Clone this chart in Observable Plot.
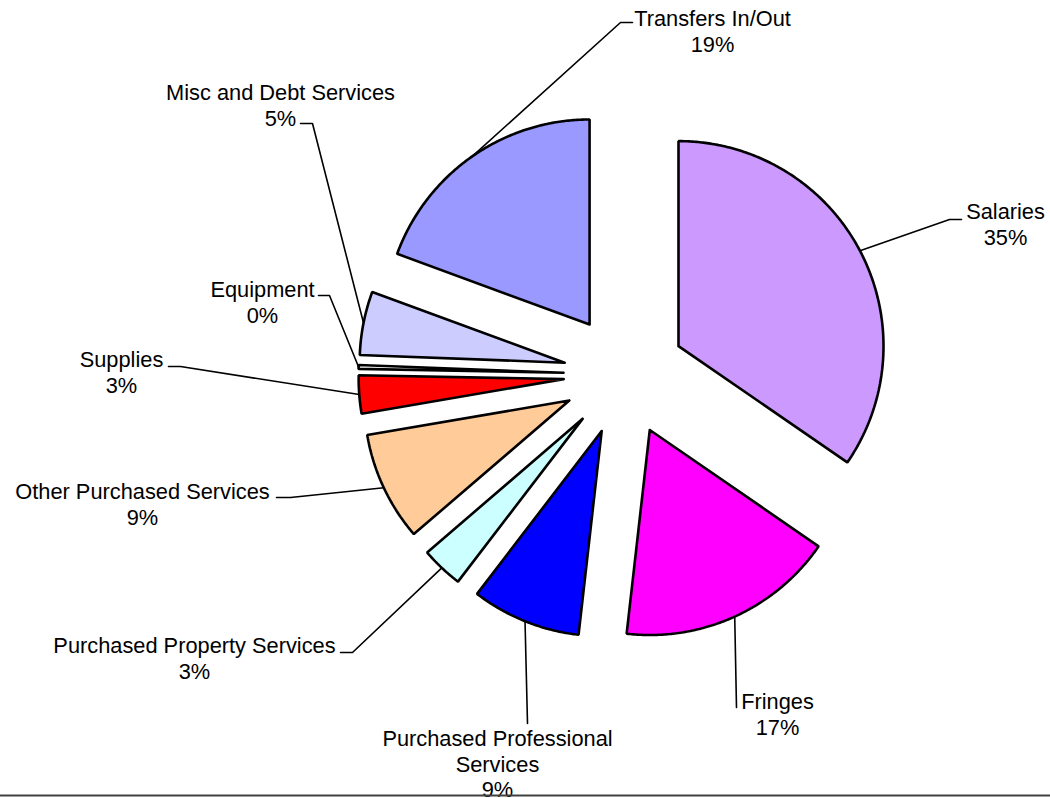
<!DOCTYPE html>
<html>
<head>
<meta charset="utf-8">
<script src="https://cdn.jsdelivr.net/npm/d3@7"></script>
<script src="https://cdn.jsdelivr.net/npm/@observablehq/plot@0.6"></script>
<style>
  html, body { margin: 0; padding: 0; background: #fff; }
  #chart { width: 1050px; height: 798px; }
</style>
</head>
<body>
<div id="chart"></div>
<script>
// ---- Data ----
const categories = ["Salaries", "Fringes", "Purchased Professional Services", "Purchased Property Services", "Other Purchased Services", "Supplies", "Equipment", "Misc and Debt Services", "Transfers In/Out"];
const values = [34.6, 17.2, 8.6, 3.3, 8.6, 3.0, 0.3, 5.0, 19.4];
const colors = ["#CC99FF", "#FF00FF", "#0000FF", "#CCFFFF", "#FFCC99", "#FF0000", "#FFFFFF", "#CCCCFF", "#9999FF"];

// ---- Layout (pixels) ----
const W = 1050, H = 798;
const cx = 624, cy = 374, R = 205, explode = 61;
// label block centers and leader elbows / hook ends
const labelLayout = [
  {tx: 1005, ty: 223, ex: 949, ey: 219, hx: 961, hy: 219},
  {tx: 777, ty: 713, ex: 736, ey: 707, hx: 736, hy: 707},
  {tx: 497, ty: 763, ex: 527, ey: 723, hx: 527, hy: 723, wrap: true},
  {tx: 194, ty: 657, ex: 352, ey: 652, hx: 340, hy: 652},
  {tx: 142, ty: 503, ex: 290, ey: 497, hx: 276, hy: 497},
  {tx: 121, ty: 371, ex: 180, ey: 366, hx: 168, hy: 366},
  {tx: 262, ty: 301, ex: 329, ey: 295, hx: 318, hy: 295},
  {tx: 280, ty: 104, ex: 312, ey: 123, hx: 300, hy: 123},
  {tx: 712, ty: 30, ex: 620, ey: 22, hx: 632, hy: 22}
];

const arcs = d3.pie().sort(null).value(d => d)(values);

const slices = arcs.map((a, i) => {
  const mid = (a.startAngle + a.endAngle) / 2;
  const ox = cx + explode * Math.sin(mid);
  const oy = cy - explode * Math.cos(mid);
  const pts = [{x: ox, y: oy}];
  const n = Math.max(2, Math.ceil((a.endAngle - a.startAngle) / (Math.PI / 360)));
  for (let k = 0; k <= n; k++) {
    const t = a.startAngle + (a.endAngle - a.startAngle) * k / n;
    pts.push({x: ox + R * Math.sin(t), y: oy - R * Math.cos(t)});
  }
  pts.push({x: ox, y: oy});
  const outer = {x: ox + R * Math.sin(mid), y: oy - R * Math.cos(mid)};
  return {i, pts, outer, color: colors[i]};
});

const leaders = [];
slices.forEach(s => {
  const L = labelLayout[s.i];
  leaders.push({id: s.i, x: s.outer.x, y: s.outer.y});
  leaders.push({id: s.i, x: L.ex, y: L.ey});
  leaders.push({id: s.i, x: L.hx, y: L.hy});
});

const labels = categories.map((c, i) => ({
  text: c + "\n" + Math.round(values[i]) + "%",
  x: labelLayout[i].tx, y: labelLayout[i].ty, wrap: !!labelLayout[i].wrap
}));

const font = "'Liberation Sans', Arial, sans-serif";
const fs = 21.8;

const marks = [];
slices.forEach(s => {
  marks.push(Plot.line(s.pts, {x: "x", y: "y", fill: s.color, stroke: "#000", strokeWidth: 2.6, strokeLinejoin: "miter", curve: "linear"}));
});
marks.push(Plot.line(leaders, {x: "x", y: "y", z: "id", stroke: "#000", strokeWidth: 1.6, curve: "linear"}));
marks.push(Plot.text(labels.filter(d => !d.wrap), {x: "x", y: "y", text: "text", fontSize: fs, lineHeight: 1.175, fill: "#000", textAnchor: "middle"}));
marks.push(Plot.text(labels.filter(d => d.wrap), {x: "x", y: "y", text: "text", fontSize: fs, lineHeight: 1.175, lineWidth: 12, fill: "#000", textAnchor: "middle"}));
marks.push(Plot.ruleY([795], {stroke: "#404040", strokeWidth: 2}));

const chart = Plot.plot({
  width: W, height: H,
  margin: 0,
  style: {fontFamily: font, background: "#fff", overflow: "visible"},
  x: {domain: [0, W], range: [0, W], axis: null},
  y: {domain: [0, H], range: [0, H], axis: null},
  marks
});
document.getElementById("chart").appendChild(chart);
</script>
</body>
</html>
